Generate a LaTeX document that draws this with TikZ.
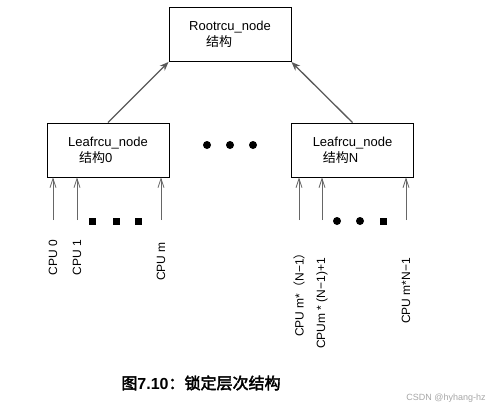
\documentclass[tikz,border=0pt]{standalone}
\usepackage{fontspec}
\setmainfont{Liberation Sans}
\newfontfamily\cjk{Noto Sans CJK SC}
\newfontfamily\cjkbf[FakeBold=2.5]{Noto Sans CJK SC}
\usetikzlibrary{arrows.meta}

\tikzset{
    rcubox/.style={draw, line width=0.9pt, minimum width=122pt, minimum height=54pt,
        align=left, inner sep=0pt, font=\fontsize{13}{16}\selectfont},
    uparrow/.style={-{Stealth[length=9pt,width=7pt]}, line width=1.3pt, draw=black!65},
    cpuarrow/.style={-{Straight Barb[length=9pt,width=6pt]}, line width=0.8pt, draw=black!60},
    cpulabel/.style={rotate=90, anchor=east, inner sep=0pt, font=\fontsize{12}{14}\selectfont},
    bigdot/.style={fill=black, circle, inner sep=0pt, minimum size=8pt},
    smallsq/.style={fill=black, inner sep=0pt, minimum size=7pt}
}

\begin{document}
\begin{tikzpicture}[x=1pt, y=-1pt]
    \useasboundingbox (0,0) rectangle (489,410);

    % rcu tree
    \node[rcubox] (root) at (230,34.5) {Rootrcu\_node\\\hspace{17pt}{\cjk 结构}};
    \node[rcubox] (leafL) at (108,150) {Leafrcu\_node\\\hspace{11pt}{\cjk 结构}0};
    \node[rcubox] (leafR) at (352.5,150) {Leafrcu\_node\\\hspace{10pt}{\cjk 结构}N};

    \draw[uparrow] (leafL.north) -- (root.south west);
    \draw[uparrow] (leafR.north) -- (root.south east);

    \foreach \name/\x in {d1/207, d2/230, d3/253}
        \node[bigdot] (\name) at (\x,145) {};

    % cpus of leaf 0
    \foreach \name/\x in {c0/53, c1/77, cm/161} {
        \coordinate (\name) at (\x,220);
        \draw[cpuarrow] (\name) -- (\name |- leafL.south);
    }
    \foreach \name/\x in {s1/92, s2/116, s3/138}
        \node[smallsq] (\name) at (\x,221) {};
    \node[cpulabel] (l0) at (53,240) {CPU 0};
    \node[cpulabel] (l1) at (77,240) {CPU 1};
    \node[cpulabel] (lm) at (161,242) {CPU m};

    % cpus of leaf N
    \foreach \name/\x in {r0/299, r1/322, rm/406} {
        \coordinate (\name) at (\x,220);
        \draw[cpuarrow] (\name) -- (\name |- leafR.south);
    }
    \node[bigdot] (e1) at (337,221) {};
    \node[bigdot] (e2) at (360,221) {};
    \node[smallsq] (e3) at (383,221) {};
    \node[cpulabel] (k0) at (299,247) {CPU m*{\cjk（}N−1{\cjk）}};
    \node[cpulabel] (k1) at (322,258) {CPUm * (N−1)+1};
    \node[cpulabel] (km) at (406,258) {CPU m*N−1};

    % caption
    \node[font=\fontsize{16}{18}\selectfont] (caption) at (201,383)
        {{\cjkbf 图}\textbf{7.10}{\cjkbf ：锁定层次结构}};
    \node[text=black!35, font=\fontsize{9}{10}\selectfont] (mark) at (446,398) {CSDN @hyhang-hz};
\end{tikzpicture}
\end{document}
